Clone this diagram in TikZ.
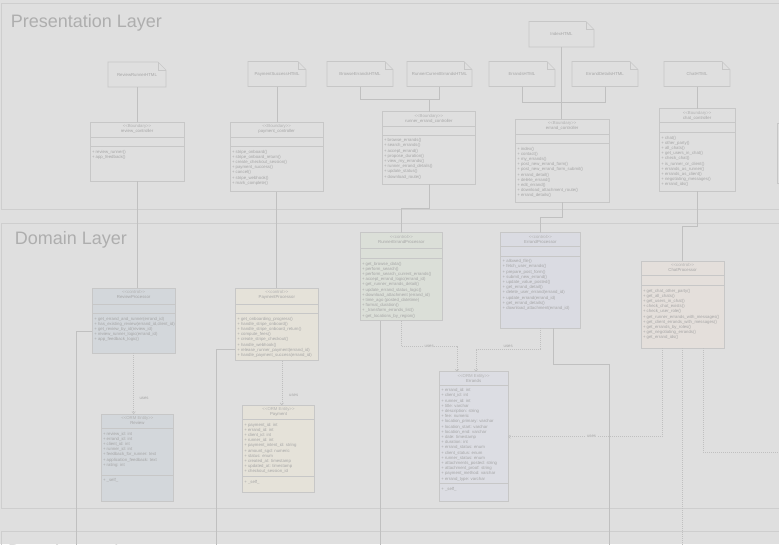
\documentclass[tikz,border=0pt]{standalone}
\usepackage{fontspec}
\setmainfont{Liberation Sans}
\usetikzlibrary{arrows.meta,calc}
\definecolor{bgc}{RGB}{223,223,223}
\definecolor{lyrc}{RGB}{206,206,206}
\definecolor{ttlc}{RGB}{174,174,174}
\definecolor{edgec}{RGB}{199,199,199}
\definecolor{txtc}{RGB}{166,166,166}
\definecolor{stc}{RGB}{178,178,178}
\definecolor{wirec}{RGB}{192,192,192}
\definecolor{fillrev}{RGB}{211,215,219}
\definecolor{fillpay}{RGB}{229,226,217}
\definecolor{fillrun}{RGB}{219,223,216}
\definecolor{fillerr}{RGB}{218,219,226}
\definecolor{fillents}{RGB}{220,221,227}
\definecolor{fillchat}{RGB}{228,223,219}
\newcommand\tinyfont{\fontsize{4.3}{5.2}\selectfont}
\newcommand\stype[1]{<\kern0pt<#1>\kern0pt>}
\tikzset{
  layerbox/.style={draw=lyrc, line width=0.8pt},
  layertitle/.style={text=ttlc, font=\fontsize{18}{20}\selectfont, anchor=base west, inner sep=0pt},
  frame/.style={draw=edgec, line width=0.6pt, anchor=north west, inner sep=0pt, outer sep=0pt},
  notelabel/.style={anchor=north west, inner sep=0pt, outer sep=0pt, text=txtc, font=\tinyfont, align=center},
  notedraw/.style={draw=edgec, line width=0.6pt},
  compart/.style={draw=edgec, line width=0.6pt},
  stereo/.style={anchor=base, inner sep=0pt, text=stc, font=\tinyfont},
  clsname/.style={anchor=base, inner sep=0pt, text=txtc, font=\tinyfont},
  members/.style={anchor=north west, inner sep=0pt, text=txtc, font=\tinyfont, align=left},
  wire/.style={draw=wirec, line width=0.6pt},
  dotwire/.style={draw=wirec, line width=0.6pt, dash pattern=on 1pt off 1pt},
  uses/.style={dotwire, -{Straight Barb[length=2pt,width=3.4pt]}},
  lbl/.style={inner sep=0.6pt, text=txtc, font=\tinyfont, fill=bgc},
}
\newcommand\htmlnote[6]{%
  \node[notelabel, minimum width={#4-#2}, minimum height={#5-#3}] (#1) at (#2,#3) {#6};
  \draw[notedraw] (#1.north west) -- ($(#1.north east)+(-8,0)$) -- ($(#1.north east)+(0,8)$) -- (#1.south east) -- (#1.south west) -- cycle;
  \draw[notedraw] ($(#1.north east)+(-8,0)$) |- ($(#1.north east)+(0,8)$);
}
\newcommand\clsframe[6]{%
  \node[frame, fill=#6, minimum width={#4-#2}, minimum height={#5-#3}] (#1) at (#2,#3) {};
}
\newcommand\clsline[2]{\draw[compart] (#1.west |- 0,#2) -- (#1.east |- 0,#2);}
\newcommand\clshead[3]{%
  \node[stereo, yshift=-5.3pt] at (#1.north) {#2};
  \node[clsname, yshift=-10.6pt] at (#1.north) {#3};
}
\newcommand\clsmembers[3]{\node[members, xshift=1.8pt, yshift=-3.4pt] at (#1.west |- 0,#2) {#3};}
\begin{document}
\begin{tikzpicture}[x=1pt,y=-1pt]
\fill[bgc] (0,0) rectangle (779,544);
\useasboundingbox (0,0) rectangle (779,544);
% layers
\draw[layerbox] (1,3) rectangle (820,209);
\draw[layerbox] (1,223) rectangle (820,508);
\draw[layerbox] (1,531) rectangle (820,700);
\node[layertitle] (tpres) at (10.6,27) {Presentation Layer};
\node[layertitle] (tdom) at (14.6,244.5) {Domain Layer};
\node[layertitle] (tdata) at (8,557.5) {Data Access Layer};
% partial box at right edge
\draw[compart] (777.5,123) rectangle (820,183);
% html pages
\htmlnote{rrh}{108}{62}{166}{87}{ReviewRunnerHTML}
\htmlnote{psh}{248}{61.5}{306}{86.5}{PaymentSuccessHTML}
\htmlnote{beh}{327}{61.5}{393}{86.5}{BrowseErrandsHTML}
\htmlnote{rceh}{407}{61.5}{472}{86.5}{RunnerCurrentErrandsHTML}
\htmlnote{idx}{529}{21.5}{594}{47}{IndexHTML}
\htmlnote{erh}{489}{61.5}{555}{86.5}{ErrandsHTML}
\htmlnote{edh}{572}{61.5}{638}{86.5}{ErrandDetailsHTML}
\htmlnote{chh}{664}{61.5}{730}{86.5}{ChatHTML}
% controllers
\clsframe{rc}{90}{122.3}{184}{181}{bgc}
\clsline{rc}{137}\clsline{rc}{146.3}
\clshead{rc}{\stype{Boundary}}{review\_controller}
\clsmembers{rc}{146.3}{+ review\_runner()\\+ app\_feedback()}
\clsframe{pc}{230}{122.3}{323.3}{191.7}{bgc}
\clsline{pc}{137}\clsline{pc}{146.3}
\clshead{pc}{\stype{Boundary}}{payment\_controller}
\clsmembers{pc}{146.3}{+ stripe\_onboard()\\+ stripe\_onboard\_return()\\+ create\_checkout\_session()\\+ payment\_success()\\+ cancel()\\+ stripe\_webhook()\\+ mark\_complete()}
\clsframe{rec}{382}{111.7}{475.7}{184.3}{bgc}
\clsline{rec}{126.7}\clsline{rec}{135}
\clshead{rec}{\stype{Boundary}}{runner\_errand\_controller}
\clsmembers{rec}{135}{+ browse\_errands()\\+ search\_errands()\\+ accept\_errand()\\+ propose\_duration()\\+ view\_my\_errands()\\+ runner\_errand\_details()\\+ update\_status()\\+ download\_route()}
\clsframe{ec}{515.3}{119.3}{609}{202}{bgc}
\clsline{ec}{134}\clsline{ec}{143.3}
\clshead{ec}{\stype{Boundary}}{errand\_controller}
\clsmembers{ec}{143.3}{+ index()\\+ contact()\\+ my\_errands()\\+ post\_new\_errand\_form()\\+ post\_new\_errand\_form\_submit()\\+ errand\_detail()\\+ delete\_errand()\\+ edit\_errand()\\+ download\_attachment\_route()\\+ errand\_details()}
\clsframe{cc}{659.3}{108.7}{735}{191.3}{bgc}
\clsline{cc}{122.7}\clsline{cc}{132.3}
\clshead{cc}{\stype{Boundary}}{chat\_controller}
\clsmembers{cc}{132.3}{+ chat()\\+ other\_party()\\+ all\_chats()\\+ get\_users\_in\_chat()\\+ check\_chat()\\+ is\_runner\_or\_client()\\+ errands\_as\_runner()\\+ errands\_as\_client()\\+ negotiating\_messages()\\+ errand\_ids()}
% processors
\clsframe{rp}{92.3}{288.3}{175}{353.3}{fillrev}
\clsline{rp}{304.3}\clsline{rp}{313.3}
\clshead{rp}{\stype{control}}{ReviewProcessor}
\clsmembers{rp}{313.3}{+ get\_errand\_and\_runner(errand\_id)\\+ has\_existing\_review(errand\_id,client\_id)\\+ get\_review\_by\_id(review\_id)\\+ review\_runner\_logic(errand\_id)\\+ app\_feedback\_logic()}
\clsframe{pp}{235.3}{288.3}{318.3}{360.7}{fillpay}
\clsline{pp}{304.3}\clsline{pp}{313.3}
\clshead{pp}{\stype{control}}{PaymentProcessor}
\clsmembers{pp}{313.3}{+ get\_onboarding\_progress()\\+ handle\_stripe\_onboard()\\+ handle\_stripe\_onboard\_return()\\+ compute\_fees()\\+ create\_stripe\_checkout()\\+ handle\_webhook()\\+ release\_runner\_payment(errand\_id)\\+ handle\_payment\_success(errand\_id)}
\clsframe{rep}{360}{232.7}{442.7}{320.7}{fillrun}
\clsline{rep}{248.3}\clsline{rep}{258.3}
\clshead{rep}{\stype{control}}{RunnerErrandProcessor}
\clsmembers{rep}{258.3}{+ get\_browse\_data()\\+ perform\_search()\\+ perform\_search\_current\_errands()\\+ accept\_errand\_logic(errand\_id)\\+ get\_runner\_errands\_detail()\\+ update\_errand\_status\_logic()\\+ download\_attachment (errand\_id)\\+ time\_ago (posted\_datetime)\\+ format\_duration()\\+ \_transform\_errands\_list()\\+ get\_locations\_by\_region()}
\clsframe{ep}{500.7}{232.7}{580}{328.3}{fillerr}
\clsline{ep}{246.7}\clsline{ep}{256}
\clshead{ep}{\stype{control}}{ErrandProcessor}
\clsmembers{ep}{256}{+ allowed\_file()\\+ fetch\_user\_errands()\\+ prepare\_post\_form()\\+ submit\_new\_errand()\\+ update\_value\_posted()\\+ get\_errand\_detail()\\+ delete\_user\_errand(errand\_id)\\+ update\_errand(errand\_id)\\+ get\_errand\_details()\\+ download\_attachment(errand\_id)}
\clsframe{cp}{641}{261.3}{724.3}{348.3}{fillchat}
\clsline{cp}{275.3}\clsline{cp}{285.3}
\clshead{cp}{\stype{control}}{ChatProcessor}
\clsmembers{cp}{285.3}{+ get\_chat\_other\_party()\\+ get\_all\_chats()\\+ get\_users\_in\_chat()\\+ check\_chat\_exists()\\+ check\_user\_role()\\+ get\_runner\_errands\_with\_messages()\\+ get\_client\_errands\_with\_messages()\\+ get\_errands\_by\_roles()\\+ get\_negotiating\_errands()\\+ get\_errand\_ids()}
% entities
\clsframe{rv}{101}{414}{173.7}{501.7}{fillrev}
\clsline{rv}{428.3}\clsline{rv}{475}
\clshead{rv}{\stype{ORM Entity}}{Review}
\clsmembers{rv}{428.3}{+ review\_id: int\\+ errand\_id: int\\+ client\_id: int\\+ runner\_id: int\\+ feedback\_for\_runner: text\\+ application\_feedback: text\\+ rating: int}
\clsmembers{rv}{475}{+ \_self\_}
\clsframe{pm}{242.3}{405.3}{314.7}{492.3}{fillpay}
\clsline{pm}{419.3}\clsline{pm}{476.3}
\clshead{pm}{\stype{ORM Entity}}{Payment}
\clsmembers{pm}{419.3}{+ payment\_id: int\\+ errand\_id: int\\+ client\_id: int\\+ runner\_id: int\\+ payment\_intent\_id: string\\+ amount\_sgd: numeric\\+ status: enum\\+ created\_at: timestamp\\+ updated\_at: timestamp\\+ checkout\_session\_id}
\clsmembers{pm}{476.3}{+ \_self\_}
\clsframe{er}{439.3}{371.7}{508}{501.7}{fillents}
\clsline{er}{385}\clsline{er}{483.3}
\clshead{er}{\stype{ORM Entity}}{Errands}
\clsmembers{er}{385}{+ errand\_id: int\\+ client\_id: int\\+ runner\_id: int\\+ title: varchar\\+ description: string\\+ fee: numeric\\+ location\_primary: varchar\\+ location\_start: varchar\\+ location\_end: varchar\\+ date: timestamp\\+ duration: int\\+ errand\_status: enum\\+ client\_status: enum\\+ runner\_status: enum\\+ attachments\_posted: string\\+ attachment\_proof: string\\+ payment\_method: varchar\\+ errand\_type: varchar}
\clsmembers{er}{483.3}{+ \_self\_}
% presentation connectors
\draw[wire] (rrh.south) -- (rrh.south |- rc.north);
\draw[wire] (rc.south) -- (rc.south |- rp.north);
\draw[wire] (psh.south) -- (psh.south |- pc.north);
\draw[wire] (pc.south) -- (pc.south |- pp.north);
\coordinate (jBR) at ($(rec.north)+(0,-12.4)$);
\draw[wire] (beh.south) |- (jBR) -| (rceh.south);
\draw[wire] (jBR) -- (rec.north);
\draw[wire] (rec.south) -- ++(0,24) -| (rep.north);
\coordinate (jED) at ($(ec.north)+(0,-17)$);
\draw[wire] (erh.south) |- (jED) -| (edh.south);
\draw[wire] (idx.south) -- (idx.south |- ec.north);
\draw[wire] (ec.south) -- ++(0,15) -| (ep.north);
\draw[wire] (chh.south) -- (chh.south |- cc.north);
\draw[wire] (cc.south) -- ++(0,34.7) -| (cp.north);
% domain connectors
\coordinate (endA) at (76,560);
\coordinate (endB) at (216.7,560);
\coordinate (endC) at (380.7,560);
\coordinate (endD) at (609,560);
\coordinate (endE) at (682.65,560);
\coordinate (endF) at (820,452.3);
\draw[wire] ($(rp.north west)+(0,43.4)$) -| (endA);
\draw[wire] ($(pp.north west)+(0,61)$) -| (endB);
\draw[wire] ($(rep.south west)+(20.7,0)$) -- (endC);
\draw[wire] ($(ep.south west)+(52.6,0)$) -- ++(0,35.7) -| (endD);
\draw[uses] (rp.south) -- node[lbl, pos=0.75, anchor=west, xshift=5pt, fill=none]{uses} (rp.south |- rv.north);
\coordinate (ppu) at ($(pp.south)+(5,0)$);
\draw[uses] (ppu) -- node[lbl, pos=0.77, anchor=west, xshift=6.5pt, fill=none]{uses} (ppu |- pm.north);
\draw[uses] (rep.south) -- ++(0,25.3) -- node[lbl]{uses} ($(er.north west)+(17.7,-25.7)$) -- ($(er.north west)+(17.7,0)$);
\draw[uses] (ep.south) -- ++(0,21) -- node[lbl, yshift=3pt]{uses} ($(er.north west)+(36.7,-22.4)$) -- ($(er.north west)+(36.7,0)$);
\draw[uses] ($(cp.south)+(-20.4,0)$) |- node[lbl, pos=0.729]{uses} ($(er.north east)+(0,65)$);
\draw[dotwire] (cp.south) -- (cp.south |- endE);
\draw[dotwire] ($(cp.south)+(20.6,0)$) |- (endF);
\end{tikzpicture}
\end{document}
